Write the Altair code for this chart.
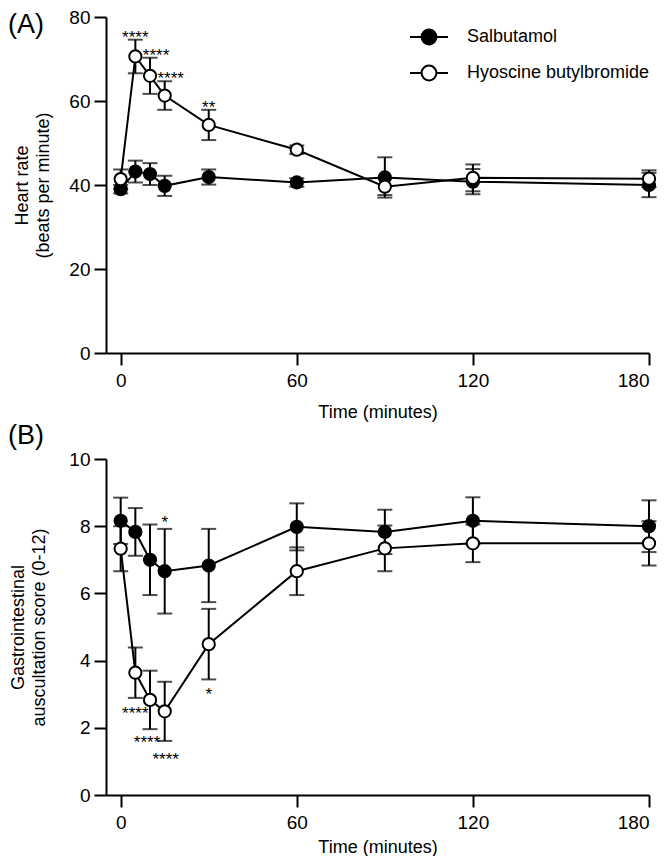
import altair as alt
import pandas as pd

FONT = "Liberation Sans"

times = [0, 5, 10, 15, 30, 60, 90, 120, 180]
series_names = ["Salbutamol", "Hyoscine butylbromide"]

# (A) heart rate, mean and error
hr_salbutamol = [39.0, 43.2, 42.6, 39.8, 41.9, 40.6, 41.8, 40.8, 40.0]
hr_salbutamol_err = [1.0, 2.6, 2.6, 2.4, 1.8, 1.0, 4.8, 3.0, 2.9]
hr_hyoscine = [41.4, 70.6, 66.0, 61.3, 54.3, 48.4, 39.6, 41.7, 41.5]
hr_hyoscine_err = [2.3, 4.0, 4.3, 3.4, 3.6, 1.0, 2.0, 3.2, 2.0]

# (B) gastrointestinal auscultation score, mean and error
gi_salbutamol = [8.16, 7.83, 7.0, 6.66, 6.83, 7.98, 7.83, 8.16, 8.0]
gi_salbutamol_err = [0.69, 0.71, 1.05, 1.26, 1.09, 0.70, 0.66, 0.70, 0.77]
gi_hyoscine = [7.33, 3.64, 2.83, 2.49, 4.49, 6.66, 7.34, 7.49, 7.49]
gi_hyoscine_err = [0.67, 0.75, 0.87, 0.88, 1.05, 0.71, 0.68, 0.56, 0.66]

# significance marks
hr_star_times = [5, 10, 15, 30]
hr_star_series = ["Hyoscine butylbromide"] * 4
hr_star_text = ["****", "****", "****", "**"]
hr_star_side = ["above"] * 4

gi_star_times = [15, 5, 10, 15, 30]
gi_star_series = ["Salbutamol"] + ["Hyoscine butylbromide"] * 4
gi_star_text = ["*", "****", "****", "****", "*"]
gi_star_side = ["above", "below", "below", "below", "below"]

LEGEND_SYMBOL = ("M-1,0H-0.39M0.39,0H1M-0.39,0A0.39,0.39,0,1,1,0.39,0"
                 "A0.39,0.39,0,1,1,-0.39,0Z")


def make_frame(salb, salb_err, hyo, hyo_err):
    rows = []
    for name, means, errs in [(series_names[0], salb, salb_err), (series_names[1], hyo, hyo_err)]:
        for t, m, e in zip(times, means, errs):
            rows.append({"time": t, "series": name, "mean": m, "lo": m - e, "hi": m + e})
    return pd.DataFrame(rows)


def make_stars(df, st_times, st_series, st_text, st_side):
    stars = pd.DataFrame({"time": st_times, "series": st_series, "label": st_text, "side": st_side})
    stars = stars.merge(df, on=["time", "series"])
    stars["ypos"] = stars.apply(lambda r: r["hi"] if r["side"] == "above" else r["lo"], axis=1)
    return stars


def panel(df, stars, star_styles, ydomain, yticks, ytitle, label, ytitle_pad, xtitle_pad,
          title_dy, legend):
    xscale = alt.Scale(domain=[-5, 180], nice=False, zero=False)
    yscale = alt.Scale(domain=ydomain, nice=False)
    xaxis = alt.Axis(values=[0, 60, 120, 180], title="Time (minutes)", titlePadding=xtitle_pad)
    yaxis = alt.Axis(values=yticks, title=ytitle, titlePadding=ytitle_pad)

    def X(field="time"):
        return alt.X(f"{field}:Q", scale=xscale, axis=xaxis)

    def Y(field):
        return alt.Y(f"{field}:Q", scale=yscale, axis=yaxis)

    base = alt.Chart(df)
    bars = base.mark_rule(color="black", strokeWidth=2).encode(x=X(), y=Y("lo"), y2="hi:Q")
    cap_lo = base.mark_tick(color="black", orient="horizontal", size=15, thickness=2).encode(x=X(), y=Y("lo"))
    cap_hi = base.mark_tick(color="black", orient="horizontal", size=15, thickness=2).encode(x=X(), y=Y("hi"))
    lines = base.mark_line(color="black", strokeWidth=2).encode(x=X(), y=Y("mean"), detail="series:N")
    points = base.mark_point(filled=True, size=150, stroke="black", strokeWidth=2, opacity=1).encode(
        x=X(), y=Y("mean"),
        fill=alt.Fill("series:N", scale=alt.Scale(domain=series_names, range=["black", "white"]),
                      legend=legend),
    )
    layers = [bars, cap_lo, cap_hi, lines, points]
    for side, which, dx, dy in star_styles:
        sel = alt.FieldOneOfPredicate(field="time", oneOf=which)
        layers.append(
            alt.Chart(stars).transform_filter(alt.datum.side == side).transform_filter(sel)
            .mark_text(font=FONT, fontSize=17, color="black", baseline="alphabetic", dx=dx, dy=dy)
            .encode(x=X(), y=Y("ypos"), text="label:N")
        )

    return alt.layer(*layers).properties(
        width=543, height=336,
        title=alt.TitleParams(label, anchor="start", frame="group", fontSize=27, fontWeight="normal",
                              font=FONT, color="black", dx=-98, dy=title_dy, offset=0),
    )


hr_df = make_frame(hr_salbutamol, hr_salbutamol_err, hr_hyoscine, hr_hyoscine_err)
gi_df = make_frame(gi_salbutamol, gi_salbutamol_err, gi_hyoscine, gi_hyoscine_err)
hr_stars = make_stars(hr_df, hr_star_times, hr_star_series, hr_star_text, hr_star_side)
gi_stars = make_stars(gi_df, gi_star_times, gi_star_series, gi_star_text, gi_star_side)

legend = alt.Legend(title=None, orient="none", legendX=303, legendY=0, symbolType=LEGEND_SYMBOL,
                    symbolSize=1444, symbolStrokeColor="black", symbolStrokeWidth=2,
                    labelFont=FONT, labelFontSize=18, labelColor="black", labelOffset=18,
                    labelLimit=0, rowPadding=4)

hr_star_styles = [("above", [5, 30], 0, 3), ("above", [10, 15], 6, 3)]
gi_star_styles = [("above", [15], 0, -1), ("below", [5, 30], 0, 21),
                  ("below", [10], -3, 19), ("below", [15], 1, 24)]

top = panel(hr_df, hr_stars, hr_star_styles, [0, 80], [0, 20, 40, 60, 80],
            ["Heart rate", "(beats per minute)"], "(A)", 16, 13, 31, legend)
bottom = panel(gi_df, gi_stars, gi_star_styles, [0, 10], [0, 2, 4, 6, 8, 10],
               ["Gastrointestinal", "auscultation score (0-12)"], "(B)", 20, 6, 0, None)

chart = alt.vconcat(top, bottom, spacing=106, bounds="flush").resolve_scale(
    fill="independent"
).resolve_legend(fill="independent").properties(padding=0).configure_view(stroke=None).configure_axis(
    grid=False, domainColor="black", domainWidth=2, tickColor="black", tickWidth=2, tickSize=12,
    labelFont=FONT, labelFontSize=19, labelColor="black", titleFont=FONT, titleFontSize=18,
    titleFontWeight="normal", titleColor="black", titleLineHeight=21,
).configure_axisX(labelPadding=6).configure_axisY(labelPadding=4)

chart.save("out.html", embed_options={"renderer": "svg", "actions": False})
